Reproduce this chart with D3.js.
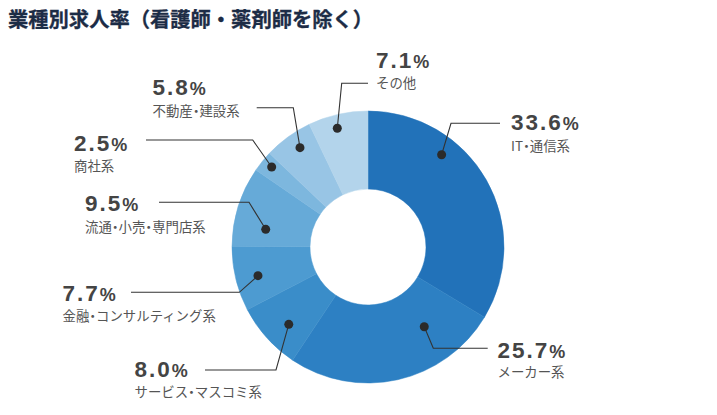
<!DOCTYPE html>
<html><head><meta charset="utf-8">
<script src="https://cdn.jsdelivr.net/npm/d3@7"></script>
<style>
html,body{margin:0;padding:0;background:#fff;}
svg{display:block;}
</style>
</head><body>
<svg id="chart" width="717" height="415"></svg>
<script>
// ---- data ----
const title = "業種別求人率（看護師・薬剤師を除く）";
const categories = ["IT・通信系","メーカー系","サービス・マスコミ系","金融・コンサルティング系","流通・小売・専門店系","商社系","不動産・建設系","その他"];
const values = [33.6, 25.7, 8.0, 7.7, 9.5, 2.5, 5.8, 7.1];
const valueLabels = ["33.6","25.7","8.0","7.7","9.5","2.5","5.8","7.1"];

// ---- styling / layout (not data) ----
const colors = ["#2272b9","#2d80c3","#3a8dc9","#4d9bd1","#66aad8","#7db7de","#98c5e5","#b3d4eb"];
const cx = 368, cy = 247, rOuter = 136, rInner = 58;
// dot placement (angle deg clockwise from top, radius), leader elbow, line end, text x, number baseline, sub baseline
const dotPolar = [[38.6,118],[144.8,97.6],[225.7,110.7],[255.4,113.7],[279.8,103.8],[309.7,125.2],[325.6,120.4],[345.5,122.6]];
const leader = [
  {ex:451, ey:123.3, lx:500,  tx:511,   nb:129.8, sb:150.5},
  {ex:433.3, ey:348.3, lx:487.7, tx:497.5, nb:357.5, sb:377},
  {ex:276, ey:370, lx:205, tx:134.5, nb:376.6, sb:397},
  {ex:239.3, ey:292.3, lx:131, tx:62.5, nb:300.8, sb:320.5},
  {ex:249, ey:202.3, lx:159, tx:85, nb:211.3, sb:231.5},
  {ex:252.7, ey:140, lx:146, tx:74, nb:151.2, sb:171},
  {ex:293.3, ey:107.7, lx:256.7, tx:152.5, nb:95.2, sb:115.5},
  {ex:341.7, ey:83.3, lx:368, tx:376, nb:68, sb:87.5}
];

const svg = d3.select("#chart");

svg.append("text")
  .attr("x", 8).attr("y", 27)
  .attr("font-family", "'Noto Sans CJK JP', sans-serif")
  .attr("font-weight", 700)
  .attr("font-size", 20.3)
  .attr("fill", "#1c2c46")
  .attr("stroke", "#1c2c46").attr("stroke-width", 0.3)
  .text(title);

const data = categories.map((c,i)=>({cat:c, value:values[i], label:valueLabels[i], i}));
const pie = d3.pie().value(d=>d.value).sort(null);
const arc = d3.arc().innerRadius(rInner).outerRadius(rOuter);

const g = svg.append("g").attr("transform", `translate(${cx},${cy})`);
g.selectAll("path").data(pie(data)).join("path")
  .attr("d", arc)
  .attr("fill", d=>colors[d.data.i])
  .attr("stroke", d=>colors[d.data.i])
  .attr("stroke-width", 0.5);

// leaders
const ann = svg.append("g");
data.forEach((d,i)=>{
  const p = d3.pointRadial(dotPolar[i][0]*Math.PI/180, dotPolar[i][1]);
  const px = cx + p[0], py = cy + p[1];
  const L = leader[i];
  ann.append("path")
    .attr("d", `M${px},${py}L${L.ex},${L.ey}L${L.lx},${L.ey}`)
    .attr("fill","none").attr("stroke","#333").attr("stroke-width",1.1);
  ann.append("circle").attr("cx",px).attr("cy",py).attr("r",4.5).attr("fill","#2b2b2b");
  const t = ann.append("text")
    .attr("x", L.tx).attr("y", L.nb)
    .attr("font-family","'Liberation Sans', Arial, sans-serif")
    .attr("font-weight",700)
    .attr("fill","#444");
  t.append("tspan").attr("font-size",22.5).attr("letter-spacing",2).text(d.label);
  t.append("tspan").attr("font-size",18).text("%");
  const s = ann.append("text")
    .attr("x", L.tx).attr("y", L.sb)
    .attr("font-family","'Noto Sans CJK JP', sans-serif")
    .attr("font-size",13.4)
    .attr("fill","#555");
  // narrow middle dot: tighten the spacing around each "・"
  const parts = d.cat.split("・");
  parts.forEach((part, k)=>{
    if (k < parts.length - 1) {
      s.append("tspan").text(part.slice(0, -1));
      s.append("tspan").attr("letter-spacing", -3.3).text(part.slice(-1));
      s.append("tspan").attr("letter-spacing", -3.3).text("・");
    } else {
      s.append("tspan").text(part);
    }
  });
});
</script>
</body></html>
